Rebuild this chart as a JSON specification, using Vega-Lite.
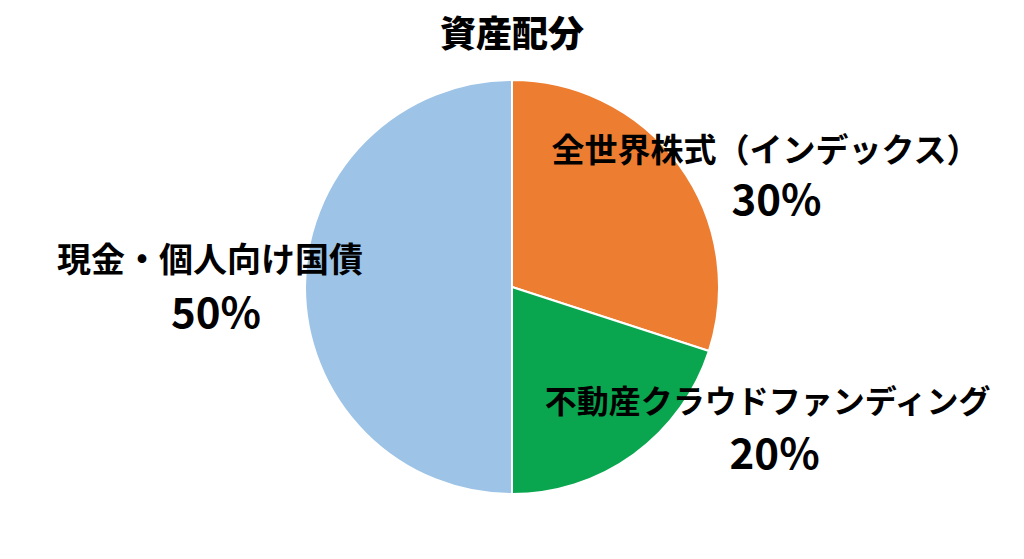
{
  "$schema": "https://vega.github.io/schema/vega-lite/v6.json",
  "width": 1024,
  "height": 544,
  "autosize": "none",
  "padding": {"top": 15, "left": 0, "right": 0, "bottom": 0},
  "background": "white",
  "config": {"view": {"stroke": null}},
  "title": {
    "text": "資産配分",
    "font": "Noto Sans CJK JP",
    "fontSize": 36,
    "fontWeight": 900,
    "color": "#000000",
    "anchor": "middle",
    "frame": "group",
    "baseline": "middle",
    "offset": -77
  },
  "data": {
    "values": [
      {"name": "全世界株式（インデックス）", "share": 0.3, "rank": 1},
      {"name": "不動産クラウドファンディング", "share": 0.2, "rank": 2},
      {"name": "現金・個人向け国債", "share": 0.5, "rank": 3}
    ]
  },
  "encoding": {
    "theta": {"field": "share", "type": "quantitative", "stack": true},
    "order": {"field": "rank", "type": "ordinal"}
  },
  "layer": [
    {
      "mark": {"type": "arc", "outerRadius": 207, "stroke": "white", "strokeWidth": 2},
      "encoding": {
        "color": {
          "field": "name",
          "type": "nominal",
          "scale": {
            "domain": ["全世界株式（インデックス）", "不動産クラウドファンディング", "現金・個人向け国債"],
            "range": ["#ED7D31", "#0AA64F", "#9DC3E6"]
          },
          "legend": null
        }
      }
    },
    {
      "mark": {"type": "text", "radius": 280, "dx": 27, "dy": 30, "font": "Noto Sans CJK JP", "fontSize": 33, "fontWeight": "bold", "color": "#000000", "align": "center", "baseline": "middle"},
      "encoding": {"text": {"condition": {"test": "datum.rank === 1", "field": "name"}, "value": ""}}
    },
    {
      "mark": {"type": "text", "radius": 280, "dx": 38, "dy": 80, "font": "Noto Sans CJK JP", "fontSize": 42, "fontWeight": "bold", "color": "#000000", "align": "center", "baseline": "middle"},
      "encoding": {"text": {"condition": {"test": "datum.rank === 1", "field": "share", "format": ".0%"}, "value": ""}}
    },
    {
      "mark": {"type": "text", "radius": 280, "dx": 91, "dy": -111, "font": "Noto Sans CJK JP", "fontSize": 32, "fontWeight": "bold", "color": "#000000", "align": "center", "baseline": "middle"},
      "encoding": {"text": {"condition": {"test": "datum.rank === 2", "field": "name"}, "value": ""}}
    },
    {
      "mark": {"type": "text", "radius": 280, "dx": 98, "dy": -58, "font": "Noto Sans CJK JP", "fontSize": 42, "fontWeight": "bold", "color": "#000000", "align": "center", "baseline": "middle"},
      "encoding": {"text": {"condition": {"test": "datum.rank === 2", "field": "share", "format": ".0%"}, "value": ""}}
    },
    {
      "mark": {"type": "text", "radius": 280, "dx": -22, "dy": -25, "font": "Noto Sans CJK JP", "fontSize": 34, "fontWeight": "bold", "color": "#000000", "align": "center", "baseline": "middle"},
      "encoding": {"text": {"condition": {"test": "datum.rank === 3", "field": "name"}, "value": ""}}
    },
    {
      "mark": {"type": "text", "radius": 280, "dx": -16, "dy": 28, "font": "Noto Sans CJK JP", "fontSize": 42, "fontWeight": "bold", "color": "#000000", "align": "center", "baseline": "middle"},
      "encoding": {"text": {"condition": {"test": "datum.rank === 3", "field": "share", "format": ".0%"}, "value": ""}}
    }
  ]
}
